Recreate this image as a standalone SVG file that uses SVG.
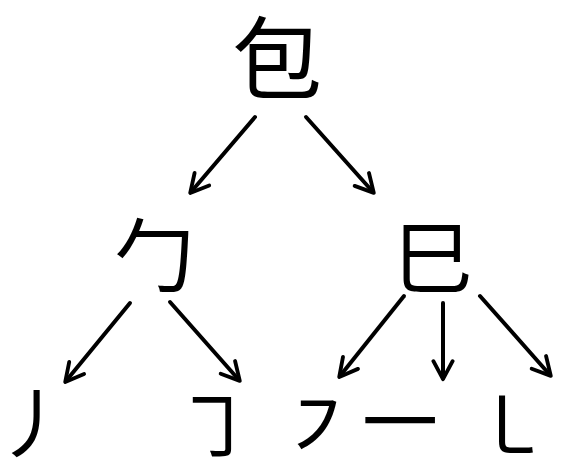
<svg xmlns="http://www.w3.org/2000/svg" width="583" height="463" viewBox="0 0 583 463">
<defs>
<style>
.ch{font-family:"Noto Sans CJK SC","Noto Sans CJK JP",sans-serif;fill:#000;text-anchor:middle}
.big{font-size:90px}
.mid{font-size:80px}
.sm{font-size:76px}
.arr{stroke:#000;stroke-width:4;fill:none;stroke-linecap:round;marker-end:url(#ah)}
</style>
<marker id="ah" viewBox="0 0 10 10" refX="8" refY="5" markerWidth="6" markerHeight="6" markerUnits="strokeWidth" orient="auto">
<path d="M1,1 L8.5,5 L1,9" fill="none" stroke="#000" stroke-width="1.6" stroke-linecap="round" stroke-linejoin="round"/>
</marker>
</defs>
<rect width="583" height="463" fill="#fff"/>
<g id="connectors">
<line class="arr" x1="255" y1="117" x2="191" y2="192"/>
<line class="arr" x1="306" y1="117" x2="373" y2="192"/>
<line class="arr" x1="130" y1="303" x2="66" y2="381"/>
<line class="arr" x1="170" y1="302" x2="239" y2="380"/>
<line class="arr" x1="404" y1="296" x2="340" y2="376"/>
<line class="arr" x1="443" y1="303" x2="443" y2="378"/>
<line class="arr" x1="480" y1="296" x2="550" y2="375"/>
</g>
<g id="n-bao"><text class="ch big" x="277" y="92">包</text></g>
<g id="n-bao2"><text class="ch mid" x="154" y="285">勹</text></g>
<g id="n-si"><text class="ch mid" x="433" y="287">巳</text></g>
<g id="n-pie"><text class="ch sm" x="33" y="452">丿</text></g>
<g id="n-hengzhe"><text class="ch sm" x="214" y="454">㇆</text></g>
<g id="n-hengpie"><text class="ch sm" x="318" y="454">㇇</text></g>
<g id="n-heng"><text class="ch sm" x="400" y="450">一</text></g>
<g id="n-shuwan"><text class="ch sm" x="512" y="454">㇄</text></g>
</svg>
